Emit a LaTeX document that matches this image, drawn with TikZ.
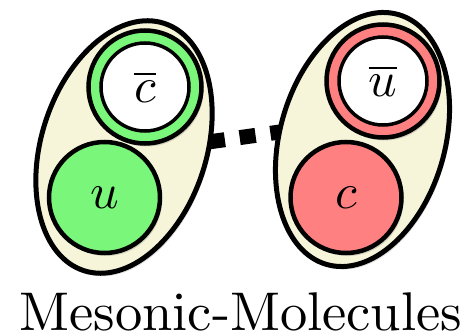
\documentclass[tikz,border=0pt]{standalone}
\DeclareFontShape{OML}{cmm}{m}{it}{<->cmmi10}{}
\DeclareFontShape{OMS}{cmsy}{m}{n}{<->cmsy10}{}
\DeclareFontShape{OMX}{cmex}{m}{n}{<->cmex10}{}
\DeclareFontShape{OT1}{cmr}{m}{n}{<->cmr10}{}
\usetikzlibrary{shapes.geometric,shadows}
\definecolor{cream}{RGB}{247,245,217}
\definecolor{qgreen}{RGB}{122,247,122}
\definecolor{qred}{RGB}{255,128,128}
\begin{document}
\begin{tikzpicture}[x=1pt,y=1pt,
  shell/.style={ellipse, draw=black, line width=5pt, fill=cream, inner sep=0pt,
    minimum width=165pt, minimum height=260pt,
    drop shadow={shadow xshift=2pt, shadow yshift=-3pt, opacity=0.25}},
  ring/.style={circle, draw=black, line width=4.5pt, inner sep=0pt, minimum size=113pt,
    drop shadow={shadow xshift=2pt, shadow yshift=-3pt, opacity=0.3}},
  hole/.style={circle, draw=black, line width=3.5pt, fill=white, inner sep=0pt, minimum size=88pt,
    font=\fontsize{50}{50}\selectfont},
  quark/.style={circle, draw=black, line width=4.5pt, inner sep=0pt, minimum size=111pt,
    font=\fontsize{50}{50}\selectfont,
    drop shadow={shadow xshift=2pt, shadow yshift=-3pt, opacity=0.3}},
  bond/.style={line width=15pt, dash pattern=on 16pt off 15pt}]
\useasboundingbox (0,0) rectangle (471,335);
% connector
\coordinate (d1) at (209,193.1);
\coordinate (d2) at (292,204.7);
\draw[bond] (d1) -- (d2);
% left molecule
\node[shell, rotate=-18] (m1) at (124,188) {};
\node[ring, fill=qgreen] (cbr) at (145,248) {};
\node[hole] (cb) at (cbr.center) {$\overline{c}$};
\node[quark, fill=qgreen] (u) at (104.5,137.5) {$u$};
% right molecule
\node[shell, rotate=-16] (m2) at (362.5,195.5) {};
\node[ring, fill=qred] (ubr) at (383,254) {};
\node[hole] (ub) at (ubr.center) {$\overline{u}$};
\node[quark, fill=qred] (c) at (346,137.5) {$c$};
% caption
\node[anchor=base, inner sep=0pt, font=\fontencoding{OT1}\fontfamily{cmr}\fontsize{54.5}{60}\selectfont] (title) at (241,5) {Mesonic-Molecules};
\end{tikzpicture}
\end{document}
